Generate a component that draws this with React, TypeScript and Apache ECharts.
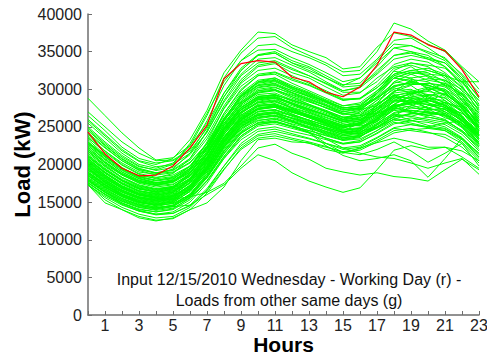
import React, { useEffect, useRef } from "react";
import * as echarts from "echarts";

const hours = ["0","1","2","3","4","5","6","7","8","9","10","11","12","13","14","15","16","17","18","19","20","21","22","23"];
const yTicks = { min: 0, max: 40000, interval: 5000 };

const inputDay = [24300, 21400, 19500, 18500, 18600, 19800, 22200, 25200, 31400, 33400, 33800, 33600, 31600, 31000, 29600, 29000, 30300, 33200, 37600, 37200, 35900, 35100, 32600, 29000];

const d01 = [28800, 26500, 24200, 22200, 20600, 20900, 22500, 25500, 29500, 32500, 34500, 34800, 33500, 32800, 31500, 30500, 31500, 33500, 35500, 35000, 34000, 33000, 31000, 28500];
const d02 = [26000, 24000, 22000, 20500, 20000, 20800, 23300, 27200, 32200, 35200, 37600, 37400, 35900, 35000, 34200, 32700, 33000, 35600, 37500, 37000, 36000, 35000, 32800, 30000];
const d03 = [25500, 23500, 21500, 20000, 19500, 20200, 22500, 26500, 31500, 34800, 36800, 37000, 35500, 34500, 33500, 32300, 32500, 35000, 38800, 38000, 36400, 35200, 33000, 31000];
const d04 = [27000, 25000, 23000, 21500, 20500, 20600, 22000, 25800, 30500, 33800, 35800, 36000, 35000, 34200, 33200, 31800, 32000, 34000, 36500, 36800, 35500, 34000, 32000, 29500];
const d05 = [24800, 22800, 21000, 19700, 19300, 20000, 22800, 26800, 31000, 33800, 35200, 35300, 34200, 33300, 32200, 31000, 31500, 33800, 36000, 35800, 35000, 34200, 31800, 28800];
const d06 = [23500, 21800, 20200, 19000, 18700, 19400, 21500, 25000, 29500, 32800, 34600, 35000, 33800, 33000, 31800, 30600, 30800, 33000, 35500, 35800, 34800, 33800, 31500, 28000];
const d07 = [26500, 24500, 22300, 20800, 20200, 20500, 21800, 24800, 29000, 32000, 34000, 34200, 33200, 32300, 31000, 29800, 30300, 32500, 34500, 34800, 34200, 33500, 31500, 29000];
const d08 = [25000, 23000, 21200, 19800, 19200, 19600, 21300, 24300, 28500, 31800, 33500, 33800, 32800, 31800, 30800, 29800, 30200, 32000, 34000, 34500, 34000, 33500, 31200, 27500];
const d09 = [22800, 21000, 19500, 18500, 18200, 18800, 20800, 24500, 29000, 32500, 34500, 34800, 33500, 32500, 31500, 30300, 30500, 32200, 34500, 35000, 34500, 33000, 30500, 27000];
const d10 = [24000, 22200, 20500, 19300, 18900, 19300, 20800, 23800, 27800, 31000, 33000, 33400, 32200, 31500, 30300, 29200, 29500, 31500, 33000, 33500, 33200, 32800, 30800, 28500];
const d11 = [23000, 21200, 19600, 18400, 17900, 18300, 19800, 22800, 26800, 29800, 31800, 32200, 31200, 30500, 29500, 28500, 28800, 30500, 32800, 33200, 32500, 31800, 29800, 26500];
const d12 = [21800, 20000, 18600, 17600, 17200, 17700, 19500, 23000, 27500, 30800, 32500, 32800, 31800, 30800, 29800, 28700, 28800, 30200, 32000, 32500, 32200, 31000, 29000, 26000];
const d13 = [22500, 20700, 19000, 17900, 17500, 18000, 19800, 22500, 26000, 29000, 31000, 31500, 30500, 29600, 28600, 27800, 28200, 29800, 31800, 32500, 32800, 32000, 30200, 27800];
const d14 = [24500, 22500, 20700, 19400, 18800, 19000, 20300, 22800, 26500, 29500, 31200, 31500, 30300, 29500, 28500, 27500, 27800, 29500, 31500, 31000, 30500, 30000, 28500, 26000];
const d15 = [20500, 18800, 17400, 16500, 16200, 16800, 18800, 22300, 26800, 30000, 31800, 32000, 30800, 29800, 28800, 27800, 28000, 29500, 31500, 32300, 31800, 30500, 28200, 25000];
const d16 = [21000, 19300, 17900, 16900, 16500, 17000, 18800, 21800, 25800, 28800, 30500, 30800, 29800, 29000, 28200, 27300, 27500, 29000, 30800, 31500, 31800, 31200, 29500, 26800];
const d17 = [23800, 21800, 20000, 18800, 18300, 18600, 19800, 22300, 25800, 28500, 30200, 30500, 29600, 28800, 27900, 27000, 27300, 28800, 30500, 30800, 30500, 29800, 28000, 25500];
const d18 = [19800, 18200, 16900, 16000, 15700, 16200, 18000, 21500, 26000, 29300, 31000, 31300, 30300, 29400, 28300, 27300, 27400, 28800, 30300, 30900, 30600, 29600, 27500, 24500];
const d19 = [22000, 20200, 18600, 17500, 17000, 17300, 18800, 21500, 25300, 28300, 30000, 30300, 29300, 28600, 27800, 27000, 27500, 29300, 31500, 31200, 30200, 29300, 27800, 25800];
const d20 = [20800, 19000, 17600, 16700, 16400, 16900, 18500, 21200, 25000, 28000, 29800, 30200, 29500, 28700, 27800, 26800, 27000, 28500, 30000, 30600, 30800, 30500, 29000, 26200];
const d21 = [21500, 19700, 18200, 17100, 16700, 17100, 18600, 21300, 24800, 27500, 29000, 29300, 28500, 27800, 27000, 26200, 26500, 27800, 29500, 29800, 29300, 28800, 27200, 24800];
const d22 = [19500, 17900, 16600, 15700, 15400, 15900, 17600, 20800, 24800, 27800, 29300, 29500, 28600, 27800, 27000, 26000, 26200, 27600, 29200, 29500, 29000, 28200, 26500, 23800];
const d23 = [20200, 18500, 17100, 16200, 15900, 16400, 18000, 20800, 24300, 27000, 28600, 28900, 28000, 27200, 26500, 25700, 26000, 27300, 28800, 29400, 29700, 29300, 27800, 25500];
const d24 = [22300, 20400, 18800, 17700, 17200, 17400, 18600, 21000, 24300, 27000, 28300, 28600, 27800, 27100, 26300, 25500, 25800, 27200, 29000, 28800, 28200, 27600, 26000, 23800];
const d25 = [18800, 17300, 16100, 15300, 15000, 15500, 17200, 20300, 24300, 27300, 28800, 29000, 28200, 27400, 26600, 25700, 25800, 27000, 28400, 28900, 28600, 27800, 26000, 23200];
const d26 = [20000, 18300, 16900, 16000, 15600, 16000, 17500, 20200, 23700, 26500, 28000, 28300, 27500, 26800, 26000, 25200, 25500, 26800, 28300, 28500, 28800, 28500, 27000, 24500];
const d27 = [21200, 19400, 17900, 16800, 16300, 16600, 18000, 20600, 24000, 26800, 28400, 28800, 28000, 27300, 26600, 25900, 26300, 27800, 29800, 30000, 28800, 27800, 26200, 24200];
const d28 = [19200, 17600, 16300, 15500, 15200, 15700, 17300, 20000, 23600, 26300, 27800, 28100, 27300, 26600, 25800, 25000, 25200, 26300, 27800, 28200, 28000, 27300, 25800, 23500];
const d29 = [18500, 17000, 15800, 15000, 14700, 15200, 16900, 19800, 23500, 26400, 27800, 28000, 27100, 26300, 25500, 24700, 24900, 26200, 27700, 28300, 28500, 27900, 26300, 23800];
const d30 = [20600, 18900, 17400, 16400, 16000, 16300, 17600, 20100, 23300, 25900, 27300, 27600, 26900, 26300, 25600, 24900, 25300, 26800, 28500, 28300, 27500, 27000, 25500, 23300];
const d31 = [23300, 21300, 19500, 18200, 17600, 17800, 19000, 21400, 24700, 27300, 28700, 29000, 28200, 27400, 26600, 25800, 26000, 27200, 28600, 28400, 27900, 27300, 25800, 23800];
const d32 = [19000, 17400, 16100, 15200, 14900, 15300, 16800, 19500, 23000, 25800, 27300, 27700, 27000, 26400, 25700, 25000, 25400, 26700, 28000, 27600, 27200, 27500, 26800, 25000];
const d33 = [18200, 16700, 15500, 14700, 14400, 14900, 16500, 19300, 22800, 25500, 27000, 27300, 26600, 25900, 25200, 24500, 24800, 26000, 27300, 27800, 27500, 26800, 25200, 22800];
const d34 = [21800, 19900, 18300, 17200, 16700, 16900, 18100, 20500, 23700, 26200, 27500, 27800, 27100, 26500, 25800, 25100, 25300, 26500, 27800, 28300, 28000, 27600, 26300, 24300];
const d35 = [19700, 18000, 16600, 15700, 15300, 15700, 17100, 19700, 23200, 26000, 27500, 27800, 27000, 26200, 25400, 24600, 24800, 26100, 27500, 27200, 26800, 26600, 25400, 23000];
const d36 = [18000, 16500, 15300, 14500, 14200, 14600, 16000, 18700, 22200, 25000, 26500, 26800, 26100, 25400, 24700, 24000, 24300, 25500, 26800, 27200, 27000, 26400, 24900, 22500];
const d37 = [19300, 17700, 16400, 15500, 15100, 15400, 16700, 19200, 22500, 25200, 26600, 26900, 26200, 25600, 24900, 24200, 24500, 25700, 27200, 26900, 26300, 25800, 24500, 22300];
const d38 = [17500, 16000, 14800, 14000, 13700, 14100, 15600, 18300, 21800, 24600, 26100, 26400, 25700, 25000, 24300, 23600, 23800, 25000, 26300, 26800, 26600, 26000, 24400, 22000];
const d39 = [20400, 18600, 17100, 16100, 15600, 15900, 17100, 19400, 22500, 25000, 26300, 26600, 25900, 25300, 24700, 24000, 24200, 25300, 26600, 26400, 26000, 25600, 24300, 22300];
const d40 = [18300, 16800, 15500, 14600, 14200, 14500, 15800, 18200, 21400, 24100, 25600, 26000, 25400, 24800, 24100, 23400, 23700, 24900, 26300, 26700, 26900, 26600, 25200, 23000];
const d41 = [17800, 16300, 15100, 14300, 13900, 14200, 15500, 17900, 21100, 23800, 25300, 25700, 25100, 24500, 23800, 23200, 23400, 24500, 25800, 26200, 25800, 25300, 24000, 21800];
const d42 = [19000, 17300, 15900, 15000, 14600, 14800, 16000, 18300, 21500, 24200, 25500, 25800, 25100, 24500, 23900, 23300, 23700, 25000, 26600, 25900, 25200, 24800, 23500, 21500];
const d43 = [17300, 15800, 14600, 13800, 13400, 13700, 15000, 17500, 20800, 23600, 25100, 25400, 24800, 24200, 23500, 22800, 23000, 24100, 25400, 25800, 25600, 25000, 23600, 21300];
const d44 = [18600, 17000, 15700, 14800, 14300, 14500, 15600, 17800, 20800, 23300, 24700, 25000, 24400, 23900, 23300, 22700, 23000, 24200, 25600, 25300, 24900, 24700, 23400, 21500];
const d45 = [17600, 16000, 14700, 13800, 13300, 13500, 14600, 16800, 19800, 22500, 24000, 24400, 23900, 23400, 22800, 22200, 22500, 23600, 24900, 25300, 25000, 24500, 23000, 20800];
const d46 = [17300, 15600, 14300, 13400, 12900, 13100, 14300, 16600, 19800, 22800, 24400, 24700, 24100, 23500, 22800, 22000, 22300, 23500, 24800, 24500, 24200, 24000, 22800, 20500];
const d47 = [18000, 16300, 14900, 13900, 13400, 13500, 14500, 16500, 19400, 22000, 23500, 23800, 23300, 22800, 22300, 21700, 22100, 23200, 24500, 24800, 24300, 23600, 22300, 20200];
const d48 = [17400, 15300, 14000, 13100, 12600, 12800, 14000, 16200, 19300, 22200, 23800, 24100, 23500, 23000, 22400, 21600, 21900, 23000, 24200, 24600, 24800, 24500, 23300, 21000];
const d49 = [17300, 14900, 14000, 12900, 12500, 12900, 14000, 14900, 17000, 20500, 23300, 23500, 23000, 22900, 22000, 21500, 22200, 22900, 23500, 23000, 22300, 22300, 21000, 19500];
const d50 = [22000, 20200, 18700, 17700, 17300, 17700, 19200, 22000, 25500, 28300, 29800, 30000, 29000, 28000, 27000, 26000, 27000, 29500, 32500, 33500, 33000, 31500, 28500, 25000];
const d51 = [20000, 18400, 17000, 16100, 15800, 16300, 17900, 20800, 24500, 27200, 28600, 28800, 27500, 26500, 25500, 24500, 25500, 28000, 31000, 32000, 32500, 31800, 29000, 25500];
const d52 = [21000, 19200, 17800, 16800, 16400, 16800, 18200, 21000, 24700, 27600, 29100, 29200, 28000, 27000, 26000, 25200, 25800, 27500, 29000, 28000, 27000, 26500, 25000, 22500];
const d53 = [18500, 16900, 15700, 14900, 14600, 15100, 16700, 19500, 23200, 26000, 27400, 27600, 26700, 25800, 24800, 24000, 24500, 26000, 28500, 29500, 30000, 29800, 27800, 24800];
const d54 = [23000, 21100, 19400, 18300, 17800, 18100, 19400, 22000, 25500, 28200, 29600, 29900, 29000, 28300, 27600, 26800, 26500, 26800, 27500, 27000, 26500, 26800, 25500, 23500];
const d55 = [19500, 17800, 16500, 15600, 15200, 15600, 17000, 19600, 23000, 25700, 27100, 27300, 26400, 25500, 24600, 23800, 24200, 25800, 28000, 29000, 29300, 28900, 27000, 24000];
const d56 = [20800, 19000, 17500, 16500, 16100, 16500, 17900, 20300, 23500, 26100, 27400, 27600, 26700, 25900, 25100, 24400, 24400, 25000, 26000, 26800, 27800, 28300, 27200, 25000];
const d57 = [22500, 20600, 19000, 17900, 17400, 17700, 19000, 21700, 25200, 28000, 29500, 29800, 28800, 28000, 27200, 26300, 26000, 26500, 28000, 29200, 30200, 30000, 28000, 25300];
const d58 = [17800, 16300, 15100, 14300, 14000, 14400, 15900, 18500, 22000, 24800, 26200, 26500, 25700, 24900, 24000, 23200, 23600, 25300, 27500, 28200, 28500, 28000, 26200, 23500];
const d59 = [24200, 22300, 20500, 19200, 18600, 18900, 20200, 22700, 26200, 29000, 30600, 31000, 30000, 29200, 28300, 27500, 27800, 29500, 31800, 31500, 30000, 28500, 26500, 24000];
const d60 = [19000, 17500, 16300, 15400, 15000, 15400, 16800, 19300, 22700, 25400, 26800, 27000, 26100, 25300, 24400, 23600, 23800, 24800, 26000, 25500, 25000, 25500, 25800, 24500];
const d61 = [23000, 21200, 19500, 18400, 17900, 18200, 19500, 22300, 26000, 29000, 30500, 30700, 29500, 28500, 27500, 26700, 27200, 29000, 31500, 32200, 32000, 31800, 31000, 31000];
const d62 = [19500, 17600, 16100, 15000, 14500, 14400, 14600, 16000, 17300, 19500, 21300, 20500, 18900, 17800, 17000, 16300, 16900, 19300, 21900, 22500, 22000, 22300, 21800, 20500];
const d63 = [20500, 18600, 17100, 16000, 15500, 15400, 15700, 16300, 17500, 19800, 22200, 22700, 21500, 20700, 19500, 19000, 18600, 18900, 18400, 18200, 17800, 19300, 20700, 19300];
const d64 = [18500, 17000, 15800, 15000, 14600, 14800, 16000, 18500, 21800, 24300, 25500, 25700, 25000, 24200, 22500, 21200, 20500, 20800, 21300, 20500, 18300, 20800, 23500, 21000];
const d65 = [19800, 18100, 16800, 15900, 15500, 15800, 17200, 19800, 23000, 25500, 26600, 26800, 25800, 24800, 23400, 22200, 21500, 21000, 20800, 20200, 19500, 20200, 20800, 18700];
const d66 = [18800, 17200, 16000, 15100, 14700, 15000, 16400, 19000, 22300, 24800, 25900, 26100, 25300, 24300, 22800, 21600, 21300, 22000, 23000, 21800, 20300, 21500, 22800, 19800];
const d67 = [21300, 19500, 18000, 17000, 16600, 17000, 18500, 21400, 25200, 28000, 29600, 29900, 29200, 28400, 27500, 26600, 26800, 28200, 30200, 29500, 29800, 30800, 29300, 26300];
const d68 = [20300, 18600, 17200, 16300, 15900, 16300, 17800, 20600, 24200, 26900, 28200, 28500, 27400, 26400, 25400, 24800, 25600, 27900, 29700, 30500, 29000, 27800, 26800, 25200];
const d69 = [22700, 20800, 19200, 18100, 17600, 17900, 19300, 22100, 25800, 28700, 30300, 30600, 29800, 29100, 28400, 27600, 27300, 27800, 29600, 31300, 31000, 29600, 27600, 24600];
const d70 = [18900, 17300, 16000, 15200, 14800, 15200, 16600, 19200, 22600, 25300, 26700, 27000, 26500, 25900, 25200, 24300, 24100, 24900, 26400, 27800, 28600, 27600, 25800, 23700];
const d71 = [24600, 22600, 20800, 19500, 18900, 19200, 20600, 23400, 27400, 30400, 32000, 32300, 31400, 30600, 29600, 28600, 28700, 30200, 32400, 32000, 31200, 30800, 29300, 27300];
const d72 = [20100, 18400, 17000, 16100, 15700, 16100, 17600, 20400, 24000, 26800, 28200, 28400, 27600, 26900, 26200, 25400, 25100, 25700, 27400, 28700, 27400, 26200, 25500, 24000];
const d73 = [21700, 19800, 18300, 17300, 16800, 17100, 18400, 20900, 24500, 27300, 28800, 29200, 28600, 27900, 27100, 26300, 26600, 28100, 29200, 28100, 29200, 29500, 27600, 24800];
const d74 = [19400, 17700, 16400, 15600, 15200, 15500, 16900, 19600, 23100, 25900, 27400, 27800, 27300, 26600, 25900, 25200, 25600, 26900, 28800, 29300, 28200, 27000, 26000, 22700];
const d75 = [17900, 16400, 15200, 14400, 14100, 14400, 15800, 18400, 21700, 24400, 25800, 26200, 25600, 24900, 24200, 23500, 23900, 25400, 26900, 27500, 27300, 27400, 25700, 24000];
const d76 = [23600, 21600, 19900, 18700, 18100, 18400, 19700, 22400, 26100, 29100, 30800, 31100, 30100, 29000, 28000, 27200, 27600, 29800, 32000, 33000, 31600, 30600, 29400, 26800];
const d77 = [20700, 18900, 17500, 16500, 16100, 16500, 17900, 20600, 24000, 26600, 27900, 28000, 27000, 26200, 25300, 24500, 24800, 26400, 27900, 27000, 26500, 27300, 26500, 23800];
const d78 = [18700, 17100, 15900, 15000, 14700, 15000, 16400, 19000, 22400, 25100, 26500, 26800, 26200, 25500, 24900, 24300, 24700, 25900, 27600, 28700, 29200, 28200, 26300, 23400];
const d79 = [25800, 23800, 21800, 20400, 19700, 20000, 21500, 24300, 28300, 31300, 33200, 33600, 32600, 31800, 30700, 29600, 29600, 31000, 33300, 34000, 33600, 32200, 30300, 27800];
const d80 = [22200, 20300, 18800, 17800, 17300, 17600, 18900, 21500, 24900, 27600, 28900, 29000, 28100, 27300, 26500, 25700, 26200, 27500, 29100, 29700, 30300, 29100, 27400, 25200];
const d81 = [19900, 18200, 16800, 15900, 15500, 15800, 17200, 19900, 23400, 26200, 27700, 27900, 27200, 26400, 25600, 24900, 25400, 27300, 29300, 28600, 27500, 28200, 27600, 24300];
const d82 = [18100, 16600, 15400, 14600, 14200, 14600, 16100, 18800, 22300, 25000, 26300, 26500, 25800, 25100, 24400, 23800, 24000, 25200, 26700, 26400, 27000, 26800, 25100, 22700];
const d83 = [21100, 19300, 17800, 16800, 16300, 16700, 18100, 20900, 24600, 27500, 29000, 29300, 28400, 27600, 26800, 26000, 26500, 28600, 31000, 30600, 30800, 30300, 28700, 25800];
const d84 = [17600, 16100, 14900, 14100, 13700, 14000, 15300, 17800, 21000, 23800, 25300, 25600, 25000, 24300, 23500, 22800, 23200, 24500, 26100, 25800, 26300, 25900, 24500, 22800];
const d85 = [22900, 21000, 19300, 18100, 17500, 17800, 19200, 22100, 26000, 29200, 30900, 31200, 30200, 29300, 28400, 27500, 27700, 28900, 30400, 31000, 31400, 31200, 30000, 27300];
const d86 = [19600, 17900, 16600, 15700, 15300, 15700, 17100, 19600, 22900, 25600, 27000, 27200, 26500, 25700, 24900, 24200, 24600, 26100, 27800, 28000, 28400, 29400, 27900, 25600];

const otherDays = [
  d01, d02, d03, d04, d05, d06, d07, d08, d09, d10, d11, d12, d13, d14, d15, d16, d17, d18, d19, d20,
  d21, d22, d23, d24, d25, d26, d27, d28, d29, d30, d31, d32, d33, d34, d35, d36, d37, d38, d39, d40,
  d41, d42, d43, d44, d45, d46, d47, d48, d49, d50, d51, d52, d53, d54, d55, d56, d57, d58, d59, d60,
  d61, d62, d63, d64, d65, d66, d67, d68, d69, d70, d71, d72, d73, d74, d75, d76, d77, d78, d79, d80,
  d81, d82, d83, d84, d85, d86,
];

const FONT = "'Liberation Sans', Arial, Helvetica, sans-serif";

export default function App() {
  const ref = useRef<HTMLDivElement>(null);
  useEffect(() => {
    if (!ref.current) return;
    const chart = echarts.init(ref.current, undefined, { renderer: "svg" });
    const greenSeries = otherDays.map((d, i) => ({
      name: "day" + i,
      type: "line",
      data: d,
      symbol: "none",
      silent: true,
      lineStyle: { color: "#00ff00", width: 1 },
      z: 2,
    }));
    chart.setOption({
      animation: false,
      grid: { left: 88, right: 8, top: 14, bottom: 39, containLabel: false, outerBoundsMode: "none" },
      xAxis: {
        type: "category",
        data: hours,
        boundaryGap: false,
        name: "Hours",
        nameLocation: "middle",
        nameGap: 20,
        nameMoveOverlap: false,
        nameTextStyle: { fontFamily: FONT, fontSize: 21, lineHeight: 19, fontWeight: "bold", color: "#000" },
        axisLine: { show: true, lineStyle: { color: "#6e6e6e", width: 1.5 } },
        axisTick: { show: true, inside: true, interval: 0, length: 4, lineStyle: { color: "#6e6e6e" } },
        axisLabel: {
          interval: 0,
          margin: 4,
          fontFamily: FONT,
          fontSize: 16,
          lineHeight: 13,
          color: "#222",
          formatter: (v: string) => (Number(v) % 2 === 1 ? v : ""),
        },
        splitLine: { show: false },
      },
      yAxis: {
        type: "value",
        min: yTicks.min,
        max: yTicks.max,
        interval: yTicks.interval,
        name: "Load (kW)",
        nameLocation: "middle",
        nameGap: 55,
        nameMoveOverlap: false,
        nameTextStyle: { fontFamily: FONT, fontSize: 22, fontWeight: "bold", color: "#000" },
        axisLine: { show: true, lineStyle: { color: "#6e6e6e", width: 1.5 } },
        axisTick: { show: true, inside: true, length: 4, lineStyle: { color: "#6e6e6e" } },
        axisLabel: { fontFamily: FONT, fontSize: 16, color: "#222", margin: 6, formatter: (v: number) => String(v) },
        splitLine: { show: false },
      },
      series: [
        ...greenSeries,
        {
          name: "input",
          type: "line",
          data: inputDay,
          symbol: "none",
          silent: true,
          lineStyle: { color: "#ff0000", width: 1.2 },
          z: 5,
        },
      ],
      graphic: [
        {
          type: "text",
          x: 289,
          y: 269,
          z: 10,
          style: {
            text: "Input 12/15/2010 Wednesday - Working Day (r) -\nLoads from other same days (g)",
            font: "16px " + FONT,
            fill: "#111",
            textAlign: "center",
            lineHeight: 21,
          },
        },
      ],
    });
    return () => chart.dispose();
  }, []);
  return (
    <div
      ref={ref}
      style={{ position: "absolute", left: 0, top: 0, width: 487, height: 354 }}
    />
  );
}
